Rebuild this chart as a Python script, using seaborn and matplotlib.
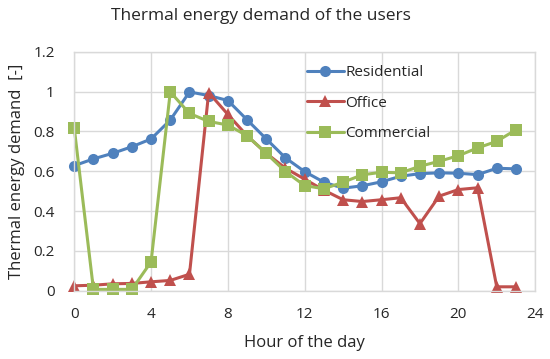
import pandas as pd
import seaborn as sns
from matplotlib import pyplot as plt

hours = list(range(24))
residential = [0.628, 0.662, 0.69, 0.723, 0.762, 0.857, 0.998, 0.98, 0.955, 0.858, 0.762, 0.667, 0.598,
               0.545, 0.515, 0.527, 0.547, 0.575, 0.588, 0.592, 0.59, 0.583, 0.615, 0.612]
office = [0.025, 0.028, 0.035, 0.037, 0.045, 0.052, 0.083, 0.995, 0.885, 0.778, 0.69, 0.615, 0.56,
          0.505, 0.457, 0.448, 0.457, 0.467, 0.337, 0.475, 0.508, 0.517, 0.02, 0.02]
commercial = [0.817, 0.007, 0.007, 0.007, 0.145, 0.998, 0.89, 0.85, 0.832, 0.778, 0.69, 0.598, 0.528,
              0.512, 0.545, 0.582, 0.595, 0.592, 0.625, 0.65, 0.678, 0.717, 0.75, 0.808]
series_names = ["Residential", "Office", "Commercial"]
x_ticks = [0, 4, 8, 12, 16, 20, 24]
y_ticks = [0, 0.2, 0.4, 0.6, 0.8, 1, 1.2]
y_tick_labels = ["0", "0.2", "0.4", "0.6", "0.8", "1", "1.2"]

df = pd.DataFrame({
    "hour": hours * 3,
    "value": residential + office + commercial,
    "user": [n for n in series_names for _ in hours],
})

sns.set_style("white")
plt.rcParams["font.family"] = ["Open Sans", "DejaVu Sans"]

fig = plt.figure(figsize=(5.5, 3.59), dpi=100)
ax = fig.add_axes([0.135, 0.19, 0.838, 0.666])

colors = {"Residential": "#4F81BD", "Office": "#C0504D", "Commercial": "#9BBB59"}
markers = {"Residential": "o", "Office": "^", "Commercial": "s"}
sns.lineplot(data=df, x="hour", y="value", hue="user", style="user",
             palette=colors, markers=markers, dashes=False, linewidth=2.2,
             markersize=8, markeredgewidth=0, ax=ax, clip_on=False)

ax.set_xlim(0, 24)
ax.set_ylim(0, 1.2)
ax.set_xticks(x_ticks)
ax.set_yticks(y_ticks)
ax.set_yticklabels(y_tick_labels)
ax.tick_params(axis="both", labelsize=11, length=0)
ax.tick_params(axis="x", pad=12)
ax.tick_params(axis="y", pad=14)
ax.grid(True, color="#D9D9D9", linewidth=1)
ax.set_axisbelow(True)
for s in ax.spines.values():
    s.set_color("#D9D9D9")
    s.set_linewidth(1)

ax.set_xlabel("Hour of the day", fontsize=12, labelpad=9)
ax.set_ylabel("Thermal energy demand  [-]", fontsize=12, labelpad=6)
fig.text(0.475, 0.955, "Thermal energy demand of the users", fontsize=12.5,
         ha="center", va="center")

leg = ax.legend(loc="upper left", bbox_to_anchor=(0.475, 1.0), frameon=False,
                fontsize=11, handlelength=2.4, handletextpad=0.1, labelspacing=1.0)

fig.savefig("out.png", dpi=100)
